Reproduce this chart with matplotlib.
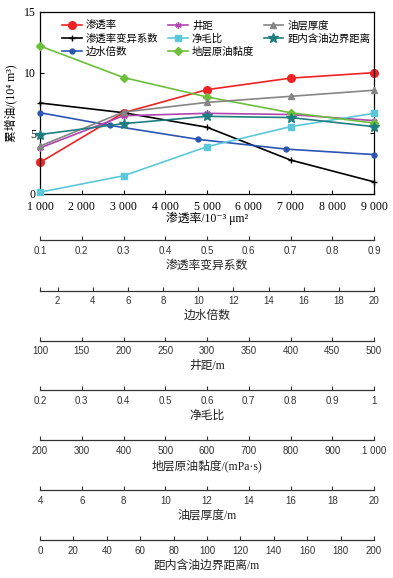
import matplotlib
matplotlib.use("Agg")
import matplotlib.pyplot as plt

plt.rcParams['font.family'] = ['Liberation Serif', 'Noto Sans CJK SC', 'DejaVu Serif']
plt.rcParams['axes.unicode_minus'] = False

# response value (cumulative incremental oil, 10^4 m3) at 5 levels of each factor
perm_x = [1000, 3000, 5000, 7000, 9000]
perm_y = [2.6, 6.7, 8.6, 9.55, 10.0]
vdp_x = [0.1, 0.3, 0.5, 0.7, 0.9]
vdp_y = [7.5, 6.7, 5.5, 2.8, 1.0]
aquifer_x = [1, 5, 10, 15, 20]
aquifer_y = [6.7, 5.65, 4.5, 3.7, 3.25]
spacing_x = [100, 200, 300, 400, 500]
spacing_y = [3.8, 6.45, 6.65, 6.55, 6.05]
ntg_x = [0.2, 0.4, 0.6, 0.8, 1.0]
ntg_y = [0.15, 1.5, 3.9, 5.55, 6.65]
visc_x = [200, 400, 600, 800, 1000]
visc_y = [12.2, 9.6, 8.0, 6.7, 5.85]
thick_x = [4, 8, 12, 16, 20]
thick_y = [3.95, 6.75, 7.55, 8.05, 8.55]
dist_x = [0, 50, 100, 150, 200]
dist_y = [4.9, 5.8, 6.4, 6.3, 5.55]

# (label, x, y, color, marker, size, axis range, ticks, tick labels, axis title)
series = [
    ("渗透率", perm_x, perm_y, "#ee2222", "o", 5.5, (1000, 9000), None, None, None),
    ("渗透率变异系数", vdp_x, vdp_y, "black", "+", 5, (0.1, 0.9),
     [0.1, 0.2, 0.3, 0.4, 0.5, 0.6, 0.7, 0.8, 0.9],
     ["0.1", "0.2", "0.3", "0.4", "0.5", "0.6", "0.7", "0.8", "0.9"], "渗透率变异系数"),
    ("边水倍数", aquifer_x, aquifer_y, "#2b55b5", "o", 3.5, (1, 20),
     [1, 2, 4, 6, 8, 10, 12, 14, 16, 18, 20],
     ["", "2", "4", "6", "8", "10", "12", "14", "16", "18", "20"], "边水倍数"),
    ("井距", spacing_x, spacing_y, "#b044b0", (6, 2, 0), 4.5, (100, 500),
     [100, 150, 200, 250, 300, 350, 400, 450, 500],
     ["100", "150", "200", "250", "300", "350", "400", "450", "500"], "井距/m"),
    ("净毛比", ntg_x, ntg_y, "#5ac8d8", "s", 4, (0.2, 1.0),
     [0.2, 0.3, 0.4, 0.5, 0.6, 0.7, 0.8, 0.9, 1.0],
     ["0.2", "0.3", "0.4", "0.5", "0.6", "0.7", "0.8", "0.9", "1"], "净毛比"),
    ("地层原油黏度", visc_x, visc_y, "#6cbf3a", "D", 4, (200, 1000),
     [200, 300, 400, 500, 600, 700, 800, 900, 1000],
     ["200", "300", "400", "500", "600", "700", "800", "900", "1 000"], "地层原油黏度/(mPa·s)"),
    ("油层厚度", thick_x, thick_y, "#858585", "^", 4.5, (4, 20),
     [4, 6, 8, 10, 12, 14, 16, 18, 20],
     ["4", "6", "8", "10", "12", "14", "16", "18", "20"], "油层厚度/m"),
    ("距内含油边界距离", dist_x, dist_y, "#1f7f80", "*", 7, (0, 200),
     [0, 20, 40, 60, 80, 100, 120, 140, 160, 180, 200],
     ["0", "20", "40", "60", "80", "100", "120", "140", "160", "180", "200"], "距内含油边界距离/m"),
]

main_ticks = [1000, 2000, 3000, 4000, 5000, 6000, 7000, 8000, 9000]
main_ticklabels = ["1 000", "2 000", "3 000", "4 000", "5 000", "6 000", "7 000", "8 000", "9 000"]

fig = plt.figure(figsize=(3.93, 5.78), dpi=100)
left, width = 40 / 393, 334 / 393
ax = fig.add_axes([left, 1 - 194 / 578, width, 182 / 578])
ax.set_xlim(1000, 9000)
ax.set_ylim(0, 15)
ax.set_xticks(main_ticks)
ax.set_xticklabels(main_ticklabels)
ax.set_yticks([0, 5, 10, 15])
ax.tick_params(direction="in", top=True, right=True, length=3, width=0.8,
               labelsize=8.5, pad=3)
ax.tick_params(axis="x", pad=5)
for sp in ax.spines.values():
    sp.set_linewidth(0.9)
ax.set_xlabel("渗透率/10⁻³ μm²", fontsize=8.5)
ax.xaxis.set_label_coords(0.5, -0.097)
ax.set_ylabel("累增油/(10⁴ m³)", fontsize=8.5)
ax.yaxis.set_label_coords(-0.068, 0.5)

handles = []
top_ax = ax
for name, xs, ys, color, marker, ms, lim, ticks, tlabels, title in series:
    if lim == (1000, 9000):
        pax = ax
    else:
        pax = ax.twiny()
        pax.set_xlim(*lim)
        pax.set_ylim(0, 15)
        pax.set_xticks([])
        for sp in pax.spines.values():
            sp.set_visible(False)
        top_ax = pax
    line, = pax.plot(xs, ys, color=color, marker=marker, markersize=ms,
                     linewidth=1.2, markeredgewidth=1.0, label=name, clip_on=False)
    handles.append(line)

top_ax.legend(handles=handles, ncol=3, loc="upper left", bbox_to_anchor=(0.066, 0.955),
              frameon=False, fontsize=7.5, borderaxespad=0, borderpad=0,
              handlelength=1.9, handletextpad=0.4, columnspacing=0.9, labelspacing=0.28)

# extra scales below the main axes, one per factor
spine_rows = [240, 290.5, 340.5, 390, 440, 490, 540]
row = 0
for name, xs, ys, color, marker, ms, lim, ticks, tlabels, title in series:
    if ticks is None:
        continue
    sax = fig.add_axes([left, 1 - spine_rows[row] / 578, width, 0.0005])
    row += 1
    sax.set_xlim(*lim)
    sax.set_ylim(0, 1)
    sax.set_yticks([])
    for k in ("left", "right", "top"):
        sax.spines[k].set_visible(False)
    sax.spines["bottom"].set_linewidth(0.9)
    sax.spines["bottom"].set_color("#333333")
    sax.patch.set_visible(False)
    sax.set_xticks(ticks)
    sax.set_xticklabels(tlabels, family=["Liberation Sans", "DejaVu Sans"])
    sax.tick_params(axis="x", direction="in", length=3, width=0.8, colors="#333333",
                    labelsize=7, pad=4)
    sax.set_xlabel(title, fontsize=8.5, labelpad=3, color="#222222")

fig.savefig("out.png", dpi=100)
